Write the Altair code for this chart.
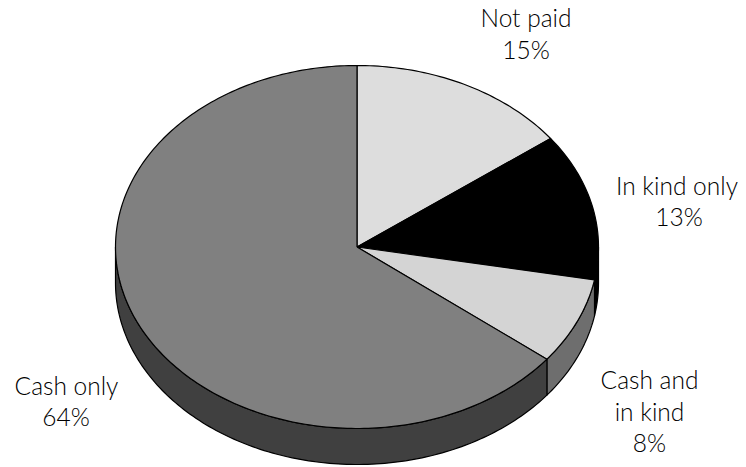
import math
import altair as alt
import pandas as pd

categories = ["Not paid", "In kind only", "Cash and in kind", "Cash only"]
shares = [14.8, 13.1, 7.7, 64.4]
top_colors = ["#dddddd", "#000000", "#d4d4d4", "#808080"]
side_colors = ["#6e6e6e", "#000000", "#6e6e6e", "#404040"]
label_lines = ["Not paid", "15%", "In kind only", "13%", "Cash and", "in kind", "8%", "Cash only", "64%"]
label_x = [526, 526, 677, 679, 649.5, 649.5, 649.5, 66.5, 66]
label_y = [27, 59, 195, 226, 389, 421, 452, 395, 426]

W, H = 730, 459
CX, CY, RX, RY, DEPTH = 357, 247, 241.5, 181.5, 36


def pt(t, dy=0):
    a = math.radians(t)
    return CX + RX * math.sin(a), CY - RY * math.cos(a) + dy


rows = []
start = 0.0
n = 0
spans = []
for c, s in zip(categories, shares):
    spans.append((c, start, start + s * 3.6))
    start += s * 3.6

# side walls (only the front half of the rim is visible)
for (c, a, b), col in zip(spans, side_colors):
    lo, hi = max(a, 90), min(b, 270)
    if lo >= hi:
        continue
    steps = max(2, int(hi - lo))
    ts = [lo + (hi - lo) * i / steps for i in range(steps + 1)]
    poly = [pt(t) for t in ts] + [pt(t, DEPTH) for t in reversed(ts)]
    poly.append(poly[0])
    for x, y in poly:
        n += 1
        rows.append(dict(key="side " + c, x=x, y=y, o=n, fill=col))

# top faces
for (c, a, b), col in zip(spans, top_colors):
    steps = max(2, int(b - a))
    ts = [a + (b - a) * i / steps for i in range(steps + 1)]
    poly = [(CX, CY)] + [pt(t) for t in ts] + [(CX, CY)]
    for x, y in poly:
        n += 1
        rows.append(dict(key="top " + c, x=x, y=y, o=n, fill=col))

df = pd.DataFrame(rows)
labels = pd.DataFrame(dict(text=label_lines, x=label_x, y=label_y))

xs = alt.Scale(domain=[8, 8 + W], nice=False, zero=False)
ys = alt.Scale(domain=[8 + H, 8], nice=False, zero=False)

layers = []
keys = list(dict.fromkeys(df["key"]))
for k in keys:
    sub = df[df["key"] == k]
    layers.append(
        alt.Chart(sub).mark_line(
            fill=sub["fill"].iloc[0], stroke="#000000", strokeWidth=1.2, strokeJoin="round", clip=False
        ).encode(
            x=alt.X("x:Q", scale=xs, axis=None),
            y=alt.Y("y:Q", scale=ys, axis=None),
            order="o:Q",
        )
    )

text = alt.Chart(labels).mark_text(
    font="Lato", fontSize=24.5, fontWeight=300, color="#000000", align="center", baseline="alphabetic"
).encode(
    x=alt.X("x:Q", scale=xs, axis=None),
    y=alt.Y("y:Q", scale=ys, axis=None),
    text="text:N",
)

chart = alt.layer(*layers, text).properties(
    width=W, height=H, padding=0, autosize=alt.AutoSizeParams(type="none")
).configure_view(stroke=None)

chart.save("out.html", embed_options={"renderer": "svg", "actions": False})
